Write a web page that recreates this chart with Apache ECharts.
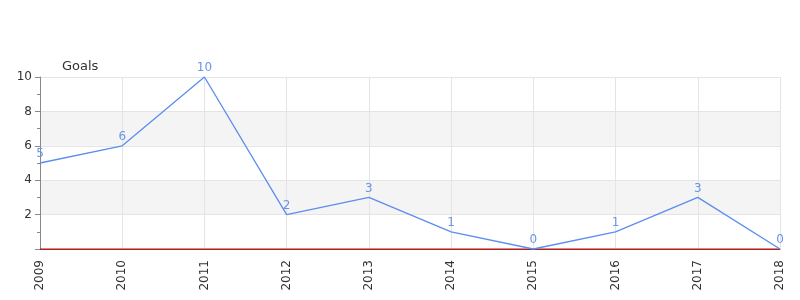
<!DOCTYPE html>
<html><head><meta charset="utf-8">
<script src="https://cdn.jsdelivr.net/npm/echarts@6/dist/echarts.min.js"></script>
<style>html,body{margin:0;padding:0;background:#fff}#c{width:800px;height:300px}</style>
</head><body><div id="c"></div>
<script>
const categories = ['2009','2010','2011','2012','2013','2014','2015','2016','2017','2018'];
const goals = [5, 6, 10, 2, 3, 1, 0, 1, 3, 0];
const baseline = [0, 0, 0, 0, 0, 0, 0, 0, 0, 0];
const yTicks = {min: 0, max: 10, interval: 2};

const chart = echarts.init(document.getElementById('c'), null, {renderer: 'canvas'});
chart.setOption({
  animation: false,
  grid: {left: 40, right: 20, top: 77, bottom: 51},
  xAxis: {
    type: 'category', data: categories, boundaryGap: false, offset: 1,
    axisLine: {lineStyle: {color: '#555', width: 1}},
    axisTick: {show: false},
    axisLabel: {rotate: 90, color: '#333', fontSize: 12, fontFamily: 'DejaVu Sans', margin: 10},
    splitLine: {show: true, lineStyle: {color: '#e4e4e4'}}
  },
  yAxis: {
    type: 'value', min: yTicks.min, max: yTicks.max, interval: yTicks.interval,
    name: 'Goals', nameLocation: 'end', nameGap: 4,
    nameTextStyle: {color: '#333', fontSize: 13, fontFamily: 'DejaVu Sans', align: 'left', padding: [0, 0, 0, 22]},
    axisLine: {show: true, lineStyle: {color: '#888'}},
    axisTick: {show: true, length: 5, lineStyle: {color: '#888'}},
    minorTick: {show: true, splitNumber: 2, length: 3, lineStyle: {color: '#888'}},
    axisLabel: {color: '#333', fontSize: 12, fontFamily: 'DejaVu Sans', formatter: v => v === 0 ? '' : v},
    splitLine: {show: true, lineStyle: {color: '#e4e4e4'}},
    splitArea: {show: true, areaStyle: {color: ['#ffffff', '#f4f4f4']}}
  },
  series: [{
    type: 'line', data: baseline, symbol: 'none', clip: false, z: 1,
    lineStyle: {color: '#dd0000', width: 1},
    itemStyle: {color: '#dd0000'}
  }, {
    type: 'line', data: goals, symbol: 'circle', symbolSize: 2, showSymbol: true, clip: false, z: 2,
    lineStyle: {color: '#5b8def', width: 1.3},
    itemStyle: {color: 'rgba(0,0,0,0)', borderWidth: 0},
    label: {show: true, position: 'top', color: '#6a94e8', fontSize: 12, fontFamily: 'DejaVu Sans', distance: 2}
  }]
});
</script></body></html>
